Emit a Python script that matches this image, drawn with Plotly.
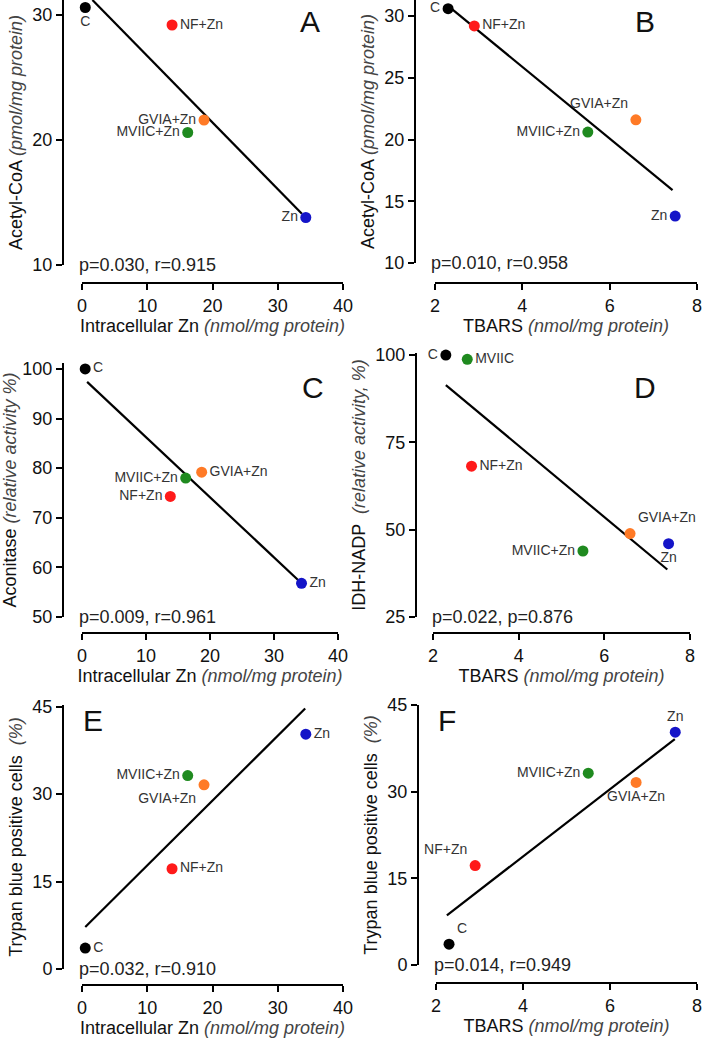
import plotly.graph_objects as go

W, H = 703, 1044

# data
groups = ["C", "NF+Zn", "MVIIC+Zn", "GVIA+Zn", "Zn"]
colors = ["#000000", "#ff1a1a", "#1f8a1f", "#ff7a26", "#1414c8"]

zn_intra = [0.5, 13.8, 16.2, 18.7, 34.3]     # nmol/mg protein
tbars = [2.3, 2.9, 5.5, 6.6, 7.5]            # nmol/mg protein
acetyl_coa = [30.6, 29.2, 20.6, 21.6, 13.8]  # pmol/mg protein
aconitase = [100, 74.3, 78.0, 79.2, 56.8]    # relative activity %
idh_nadp = [100, 68.2, 43.9, 48.9, 46.0]     # relative activity %
trypan = [3.6, 17.2, 33.2, 31.6, 40.3]       # %

# extra point in panel D (MVIIC alone)
mviic_tbars = [2.8]
mviic_idh = [98.8]

# regression lines (end points)
line_A = ([1.6, 33.7], [31.2, 14.1])
line_B = ([2.34, 7.44], [30.7, 15.9])
line_C = ([0.8, 34.3], [97.4, 56.8])
line_D = ([2.3, 7.47], [91.4, 38.6])
line_E = ([0.5, 34.2], [7.2, 44.7])
line_F = ([2.25, 7.49], [8.6, 39.1])

stats = ["p=0.030, r=0.915", "p=0.010, r=0.958", "p=0.009, r=0.961",
         "p=0.022, p=0.876", "p=0.032, r=0.910", "p=0.014, r=0.949"]

x_zn_title = "Intracellular Zn <span style='color:#444'><i>(nmol/mg protein)</i></span>"
x_tb_title = "TBARS <span style='color:#444'><i>(nmol/mg protein)</i></span>"

panels = [
    dict(letter="A", x=zn_intra, y=acetyl_coa, line=line_A,
         xdom=(82, 343), ydom=(0, 265), xr=[0, 40], yr=[10, 31.2],
         xt=[0, 10, 20, 30, 40], yt=[10, 20, 30], ypos=63, xpos=283,
         xtitle=x_zn_title,
         ytitle="Acetyl-CoA <span style='color:#444'><i>(pmol/mg protein)</i></span>",
         tpos=["bottom center", "middle right", "middle left", "middle left", "middle left"],
         lpos=(310, 22)),
    dict(letter="B", x=tbars, y=acetyl_coa, line=line_B,
         xdom=(435, 697), ydom=(0, 263), xr=[2, 8], yr=[10, 31.3],
         xt=[2, 4, 6, 8], yt=[10, 15, 20, 25, 30], ypos=415, xpos=283,
         xtitle=x_tb_title,
         ytitle="Acetyl-CoA <span style='color:#444'><i>(pmol/mg protein)</i></span>",
         tpos=["middle left", "middle right", "middle left", "top left", "middle left"],
         lpos=(645, 22)),
    dict(letter="C", x=zn_intra, y=aconitase, line=line_C,
         xdom=(82, 338), ydom=(363, 617), xr=[0, 40], yr=[50, 101.2],
         xt=[0, 10, 20, 30, 40], yt=[50, 60, 70, 80, 90, 100], ypos=63, xpos=633,
         xtitle=x_zn_title,
         ytitle="Aconitase <span style='color:#444'><i>(relative activity %)</i></span>",
         tpos=["middle right", "middle left", "middle left", "middle right", "middle right"],
         lpos=(313, 387)),
    dict(letter="D", x=tbars, y=idh_nadp, line=line_D,
         xdom=(433, 690), ydom=(353, 617), xr=[2, 8], yr=[25, 100.6],
         xt=[2, 4, 6, 8], yt=[25, 50, 75, 100], ypos=416, xpos=633,
         xtitle=x_tb_title,
         ytitle="IDH-NADP  <span style='color:#444'><i>(relative activity, %)</i></span>",
         tpos=["middle left", "middle right", "middle left", "top right", "bottom center"],
         lpos=(645, 387)),
    dict(letter="E", x=zn_intra, y=trypan, line=line_E,
         xdom=(82, 343), ydom=(705, 969), xr=[0, 40], yr=[0, 45.3],
         xt=[0, 10, 20, 30, 40], yt=[0, 15, 30, 45], ypos=63, xpos=985,
         xtitle=x_zn_title,
         ytitle="Trypan blue positive cells  <span style='color:#444'><i>(%)</i></span>",
         tpos=["middle right", "middle right", "middle left", "bottom left", "middle right"],
         lpos=(93, 720)),
    dict(letter="F", x=tbars, y=trypan, line=line_F,
         xdom=(436, 697), ydom=(705, 965), xr=[2, 8], yr=[0, 45],
         xt=[2, 4, 6, 8], yt=[0, 15, 30, 45], ypos=418, xpos=983,
         xtitle=x_tb_title,
         ytitle="Trypan blue positive cells  <span style='color:#444'><i>(%)</i></span>",
         tpos=["top right", "top left", "middle left", "bottom center", "top center"],
         lpos=(447, 720)),
]

FONT = "Liberation Sans, Arial, sans-serif"
fig = go.Figure()
layout = dict(template="none", width=W, height=H, margin=dict(l=0, r=0, t=0, b=0),
              paper_bgcolor="white", plot_bgcolor="white", showlegend=False,
              font=dict(family=FONT, color="#111"))
annotations = []

for i, p in enumerate(panels):
    n = "" if i == 0 else str(i + 1)
    xa, ya = "x" + n, "y" + n

    fig.add_trace(go.Scatter(x=p["line"][0], y=p["line"][1], mode="lines",
                             line=dict(color="black", width=2.2),
                             xaxis=xa, yaxis=ya, hoverinfo="skip"))
    fig.add_trace(go.Scatter(x=p["x"], y=p["y"], mode="markers+text",
                             text=groups, textposition=p["tpos"],
                             textfont=dict(size=14, color="#333"),
                             marker=dict(color=colors, size=11, line=dict(width=0)),
                             cliponaxis=False, xaxis=xa, yaxis=ya))
    if p["letter"] == "D":
        fig.add_trace(go.Scatter(x=mviic_tbars, y=mviic_idh, mode="markers+text",
                                 text=["MVIIC"], textposition="middle right",
                                 textfont=dict(size=14, color="#333"),
                                 marker=dict(color=colors[2], size=11, line=dict(width=0)),
                                 cliponaxis=False, xaxis=xa, yaxis=ya))

    common = dict(showline=True, linewidth=2, linecolor="black", ticks="outside",
                  ticklen=6, tickwidth=2, tickcolor="black", showgrid=False,
                  zeroline=False, automargin=False, tickfont=dict(size=18, color="#111"))
    layout["xaxis" + n] = dict(domain=[p["xdom"][0] / W, p["xdom"][1] / W],
                               range=p["xr"], tickvals=p["xt"], anchor="free",
                               position=1 - p["xpos"] / H,
                               title=dict(text=p["xtitle"], font=dict(size=18), standoff=4),
                               **common)
    layout["yaxis" + n] = dict(domain=[1 - p["ydom"][1] / H, 1 - p["ydom"][0] / H],
                               range=p["yr"], tickvals=p["yt"], anchor="free",
                               position=p["ypos"] / W,
                               title=dict(text=p["ytitle"], font=dict(size=18), standoff=4),
                               **common)

    annotations.append(dict(text=stats[i], xref="paper", yref="paper",
                            x=(p["ypos"] + 14) / W, y=1 - p["ydom"][1] / H,
                            xanchor="left", yanchor="middle", showarrow=False,
                            font=dict(size=18, color="#222")))
    annotations.append(dict(text=p["letter"], xref="paper", yref="paper",
                            x=p["lpos"][0] / W, y=1 - p["lpos"][1] / H,
                            xanchor="center", yanchor="middle", showarrow=False,
                            font=dict(size=30, color="#111")))

layout["annotations"] = annotations
fig.update_layout(**layout)

page_css = ("document.documentElement.style.margin='0';"
            "document.documentElement.style.overflow='hidden';"
            "document.body.style.margin='0';document.body.style.overflow='hidden';")
fig.write_html("out.html", config={"displayModeBar": False}, post_script=page_css)
